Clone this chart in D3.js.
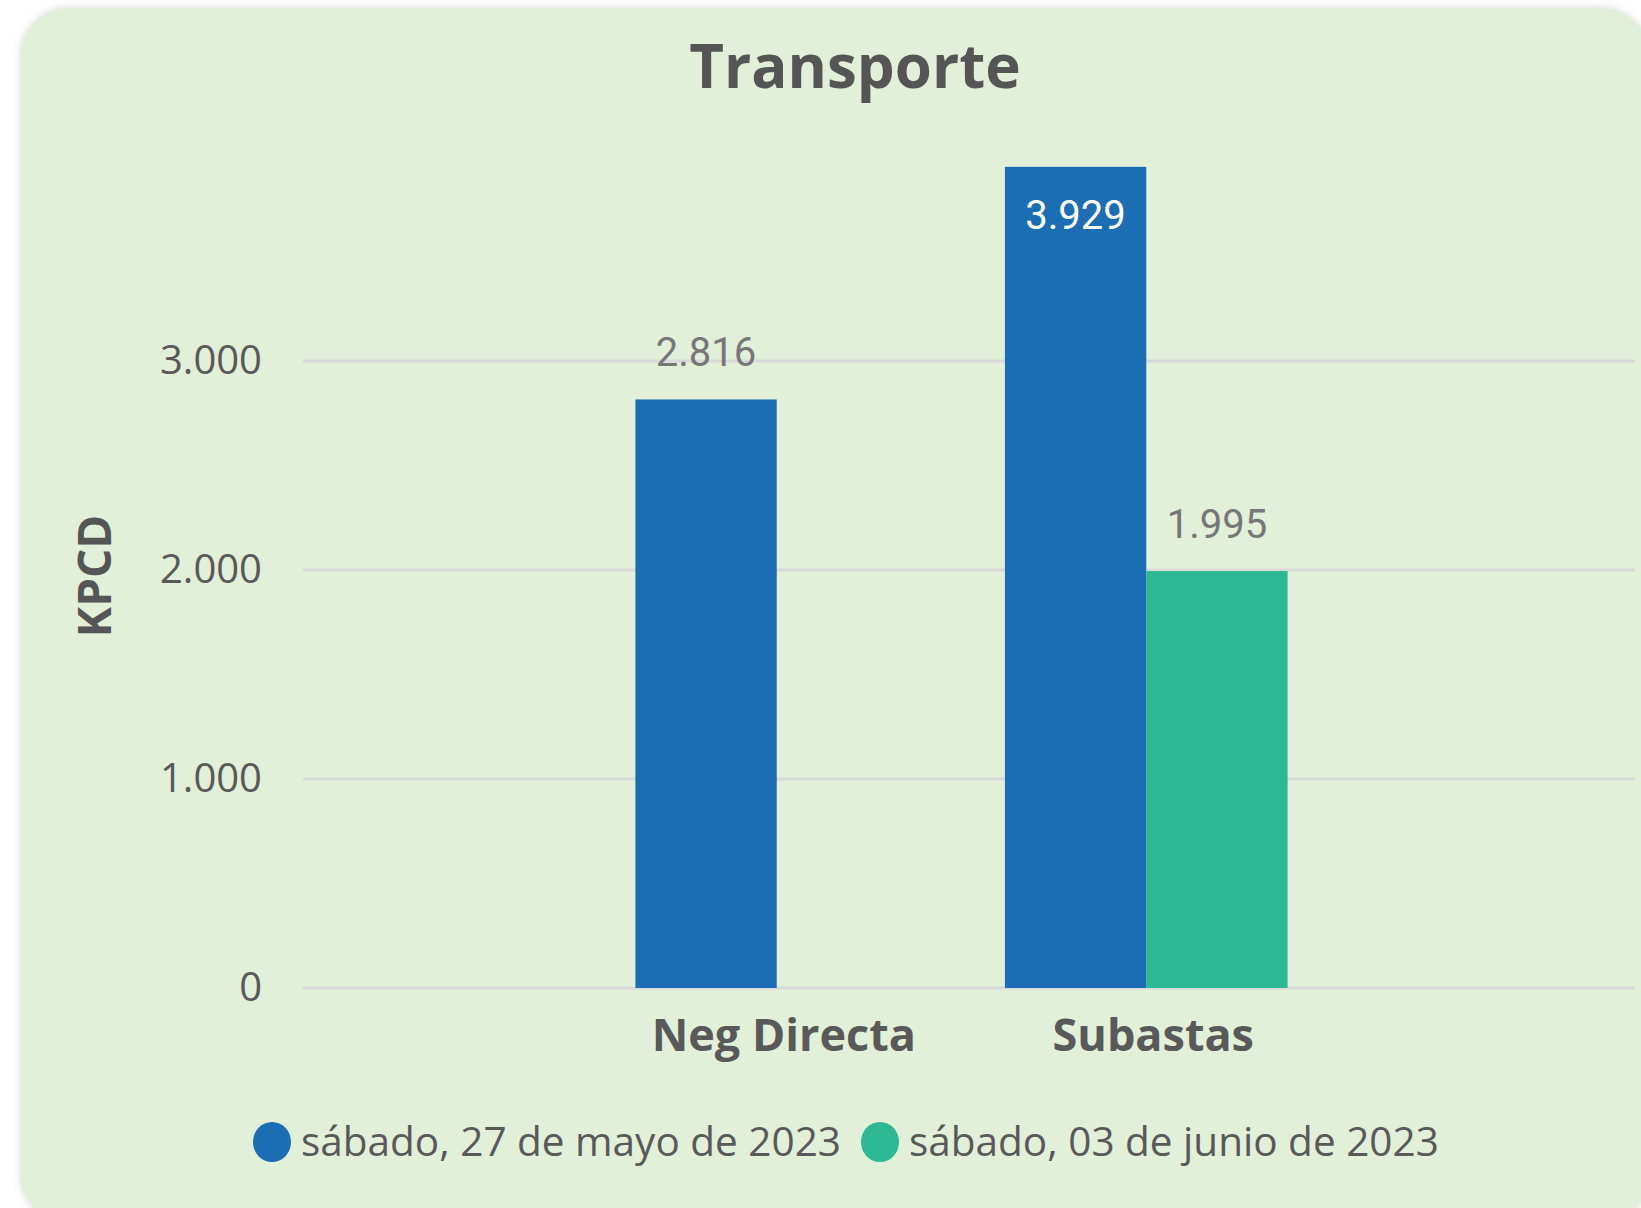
<!DOCTYPE html>
<html>
<head>
<meta charset="utf-8">
<script src="https://cdn.jsdelivr.net/npm/d3@7"></script>
<style>
  body { margin: 0; background: #fff; }
  svg { display: block; }
</style>
</head>
<body>
<svg id="chart"></svg>
<script>
const width = 1641;
const height = 1208;

// datos
const categories = ['Neg Directa', 'Subastas'];
const series = ['sábado, 27 de mayo de 2023', 'sábado, 03 de junio de 2023'];
const values_may27 = [2816, 3929];
const values_jun03 = [null, 1995];
const yTicks = [0, 1000, 2000, 3000];
const colors = ['#1b6db4', '#2bb893'];

const fmt = d3.format(',.0f');
const fmtES = v => fmt(v).replace(/,/g, '.');

const svg = d3.select('#chart')
    .attr('width', width)
    .attr('height', height);

const defs = svg.append('defs');
const shadow = defs.append('filter').attr('id', 'shadow')
    .attr('x', '-5%').attr('y', '-5%').attr('width', '110%').attr('height', '110%');
shadow.append('feDropShadow')
    .attr('dx', 0).attr('dy', 0)
    .attr('stdDeviation', 4)
    .attr('flood-color', '#bbb')
    .attr('flood-opacity', 0.6);

// panel
svg.append('rect')
    .attr('x', 21).attr('y', 8)
    .attr('width', 1628).attr('height', 1215)
    .attr('rx', 48)
    .attr('fill', '#e2efd9')
    .attr('filter', 'url(#shadow)');

const plotLeft = 303, plotRight = 1635;
const y = d3.scaleLinear()
    .domain([0, 3000])
    .range([988, 361]);

const x = d3.scaleBand()
    .domain(categories)
    .range([592, 1331])
    .paddingInner(0.235)
    .paddingOuter(0.1175);

const xs = d3.scaleBand()
    .domain(series)
    .range([0, x.bandwidth()]);

// gridlines
svg.append('g')
    .selectAll('line')
    .data(yTicks)
    .join('line')
    .attr('x1', plotLeft).attr('x2', plotRight)
    .attr('y1', d => y(d)).attr('y2', d => y(d))
    .attr('stroke', '#d9d9d9')
    .attr('stroke-width', 3);

// y axis
const yAxis = svg.append('g')
    .attr('transform', `translate(262,0)`)
    .call(d3.axisLeft(y).tickValues(yTicks).tickFormat(fmtES).tickSize(0).tickPadding(0));
yAxis.select('.domain').remove();
yAxis.selectAll('text')
    .attr('font-family', '"Segoe UI", "Open Sans", sans-serif')
    .attr('font-size', 40)
    .attr('fill', '#595959')
    .attr('dy', '0.32em');

// x axis
const xAxis = svg.append('g')
    .attr('transform', `translate(7,${y(0) + 5})`)
    .call(d3.axisBottom(x).tickSize(0).tickPadding(0));
xAxis.select('.domain').remove();
xAxis.selectAll('text')
    .attr('font-family', '"Segoe UI", "Open Sans", sans-serif')
    .attr('font-size', 45)
    .attr('font-weight', 'bold')
    .attr('fill', '#595959')
    .attr('dy', '1.28em');

// bars
const rows = [];
categories.forEach((c, i) => {
    [values_may27[i], values_jun03[i]].forEach((v, j) => {
        if (v != null) rows.push({ cat: c, ser: series[j], v: v, j: j });
    });
});

svg.append('g')
    .selectAll('rect')
    .data(rows)
    .join('rect')
    .attr('x', d => x(d.cat) + xs(d.ser))
    .attr('y', d => y(d.v))
    .attr('width', xs.bandwidth())
    .attr('height', d => y(0) - y(d.v))
    .attr('fill', d => colors[d.j]);

// value labels
svg.append('g')
    .selectAll('text')
    .data(rows)
    .join('text')
    .attr('x', d => x(d.cat) + xs(d.ser) + xs.bandwidth() / 2)
    .attr('y', d => d.v > 3500 ? y(d.v) + 62 : y(d.v) - 33)
    .attr('text-anchor', 'middle')
    .attr('font-family', 'Roboto, sans-serif')
    .attr('font-size', 40)
    .attr('fill', d => d.v > 3500 ? '#ffffff' : '#777777')
    .text(d => fmtES(d.v));

// title
svg.append('text')
    .attr('x', 855).attr('y', 88)
    .attr('text-anchor', 'middle')
    .attr('font-family', '"Segoe UI", "Open Sans", sans-serif')
    .attr('font-size', 60)
    .attr('font-weight', 'bold')
    .attr('fill', '#555555')
    .text('Transporte');

// y label
svg.append('text')
    .attr('transform', 'translate(111,576) rotate(-90)')
    .attr('text-anchor', 'middle')
    .attr('font-family', '"Segoe UI", "Open Sans", sans-serif')
    .attr('font-size', 46)
    .attr('font-weight', 'bold')
    .attr('fill', '#555555')
    .text('KPCD');

// legend
const legendX = [272, 880];
const legend = svg.append('g')
    .selectAll('g')
    .data(series)
    .join('g')
    .attr('transform', (d, i) => `translate(${legendX[i]},1142)`);
legend.append('ellipse')
    .attr('rx', 19).attr('ry', 20)
    .attr('fill', (d, i) => colors[i]);
legend.append('text')
    .attr('x', 29)
    .attr('dy', '0.35em')
    .attr('font-family', '"Segoe UI", "Open Sans", sans-serif')
    .attr('font-size', 40.5)
    .attr('fill', '#595959')
    .text(d => d);
</script>
</body>
</html>
